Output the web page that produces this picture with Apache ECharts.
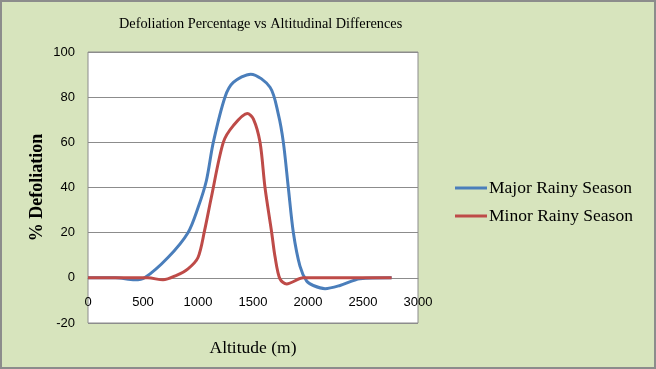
<!DOCTYPE html>
<html>
<head>
<meta charset="utf-8">
<script src="https://cdn.jsdelivr.net/npm/echarts@6/dist/echarts.min.js"></script>
<style>
  html, body { margin: 0; padding: 0; }
  #chart { width: 656px; height: 369px; }
</style>
</head>
<body>
<div id="chart"></div>
<script>
// 数据：海拔 (m) 与 落叶百分比
const majorAltitude = [0, 250, 424, 515, 727, 909, 1000, 1076, 1139, 1245, 1321, 1479, 1655, 1730, 1776, 1821, 1867, 1927, 1988, 2048, 2155, 2291, 2473, 2760];
const majorDefoliation = [0, 0, -0.9, 0, 9, 20, 31, 43, 60, 80, 86.5, 90.2, 84.4, 72.5, 60, 40, 20, 5.2, -1.5, -3.4, -4.8, -3.4, -0.4, 0];

const minorAltitude = [0, 545, 682, 800, 909, 1000, 1060, 1121, 1230, 1321, 1448, 1503, 1564, 1609, 1670, 1700, 1745, 1806, 1958, 2760];
const minorDefoliation = [0, 0, -0.9, 1, 4, 9, 21, 35.6, 60, 67.4, 72.8, 70.4, 60, 40, 20, 9.4, -0.5, -2.7, 0, 0];

const seriesNames = ['Major Rainy Season', 'Minor Rainy Season'];

// 坐标轴范围
const xMin = 0, xMax = 3000, xStep = 500;
const yMin = -20, yMax = 100, yStep = 20;

const pairs = (xs, ys) => xs.map((x, i) => [x, ys[i]]);

const chart = echarts.init(document.getElementById('chart'));

// 绘图区高度 271px，x 轴上移到 y=0 那条线
const plotHeight = 369 - 52 - 46;
const zeroOffset = plotHeight * (0 - yMin) / (yMax - yMin);

const option = {
  backgroundColor: '#d7e4bd',
  animation: false,
  title: {
    text: 'Defoliation Percentage vs Altitudinal Differences',
    left: 119,
    top: 17,
    padding: 0,
    textStyle: {
      fontFamily: 'Liberation Serif',
      fontSize: 14.3,
      fontWeight: 'normal',
      color: '#000'
    }
  },
  legend: {
    orient: 'vertical',
    left: 455,
    top: 179,
    padding: 0,
    icon: 'rect',
    itemWidth: 32,
    itemHeight: 3,
    itemGap: 10,
    data: seriesNames,
    textStyle: {
      fontFamily: 'Liberation Serif',
      fontSize: 17.5,
      color: '#000',
      padding: [0, 0, 0, -3]
    }
  },
  graphic: [
    {
      type: 'rect',
      shape: { x: 1, y: 1, width: 654, height: 367 },
      style: { fill: null, stroke: '#8c8c8c', lineWidth: 2 },
      silent: true
    }
  ],
  grid: {
    left: 88,
    right: 238,
    top: 52,
    bottom: 46,
    outerBoundsMode: 'none',
    containLabel: false,
    show: true,
    backgroundColor: '#fff',
    borderColor: '#8c8c8c',
    borderWidth: 1
  },
  xAxis: {
    type: 'value',
    min: xMin,
    max: xMax,
    interval: xStep,
    position: 'bottom',
    offset: -zeroOffset,
    name: 'Altitude (m)',
    nameLocation: 'middle',
    nameGap: 62,
    nameTextStyle: {
      fontFamily: 'Liberation Serif',
      fontSize: 17.5,
      color: '#000'
    },
    axisLine: { show: true, onZero: false, lineStyle: { color: '#8c8c8c', width: 1 } },
    axisTick: { show: false },
    splitLine: { show: false },
    axisLabel: {
      margin: 18,
      fontFamily: 'Liberation Sans',
      fontSize: 13,
      color: '#000',
      formatter: v => String(v)
    }
  },
  yAxis: {
    type: 'value',
    min: yMin,
    max: yMax,
    interval: yStep,
    name: '% Defoliation',
    nameLocation: 'middle',
    nameGap: 42,
    nameMoveOverlap: false,
    nameTextStyle: {
      fontFamily: 'Liberation Serif',
      fontSize: 18,
      fontWeight: 'bold',
      color: '#000'
    },
    axisLine: { show: false },
    axisTick: { show: false },
    splitLine: { show: true, lineStyle: { color: '#8c8c8c', width: 1 } },
    axisLabel: {
      margin: 13,
      fontFamily: 'Liberation Sans',
      fontSize: 13,
      color: '#000',
      formatter: v => String(v)
    }
  },
  series: [
    {
      name: seriesNames[0],
      type: 'line',
      smooth: 0.3,
      showSymbol: false,
      symbol: 'none',
      color: '#4a7ebb',
      lineStyle: { width: 3, color: '#4a7ebb' },
      data: pairs(majorAltitude, majorDefoliation)
    },
    {
      name: seriesNames[1],
      type: 'line',
      smooth: 0.3,
      showSymbol: false,
      symbol: 'none',
      color: '#be4b48',
      lineStyle: { width: 3, color: '#be4b48' },
      data: pairs(minorAltitude, minorDefoliation)
    }
  ]
};

chart.setOption(option);
</script>
</body>
</html>
